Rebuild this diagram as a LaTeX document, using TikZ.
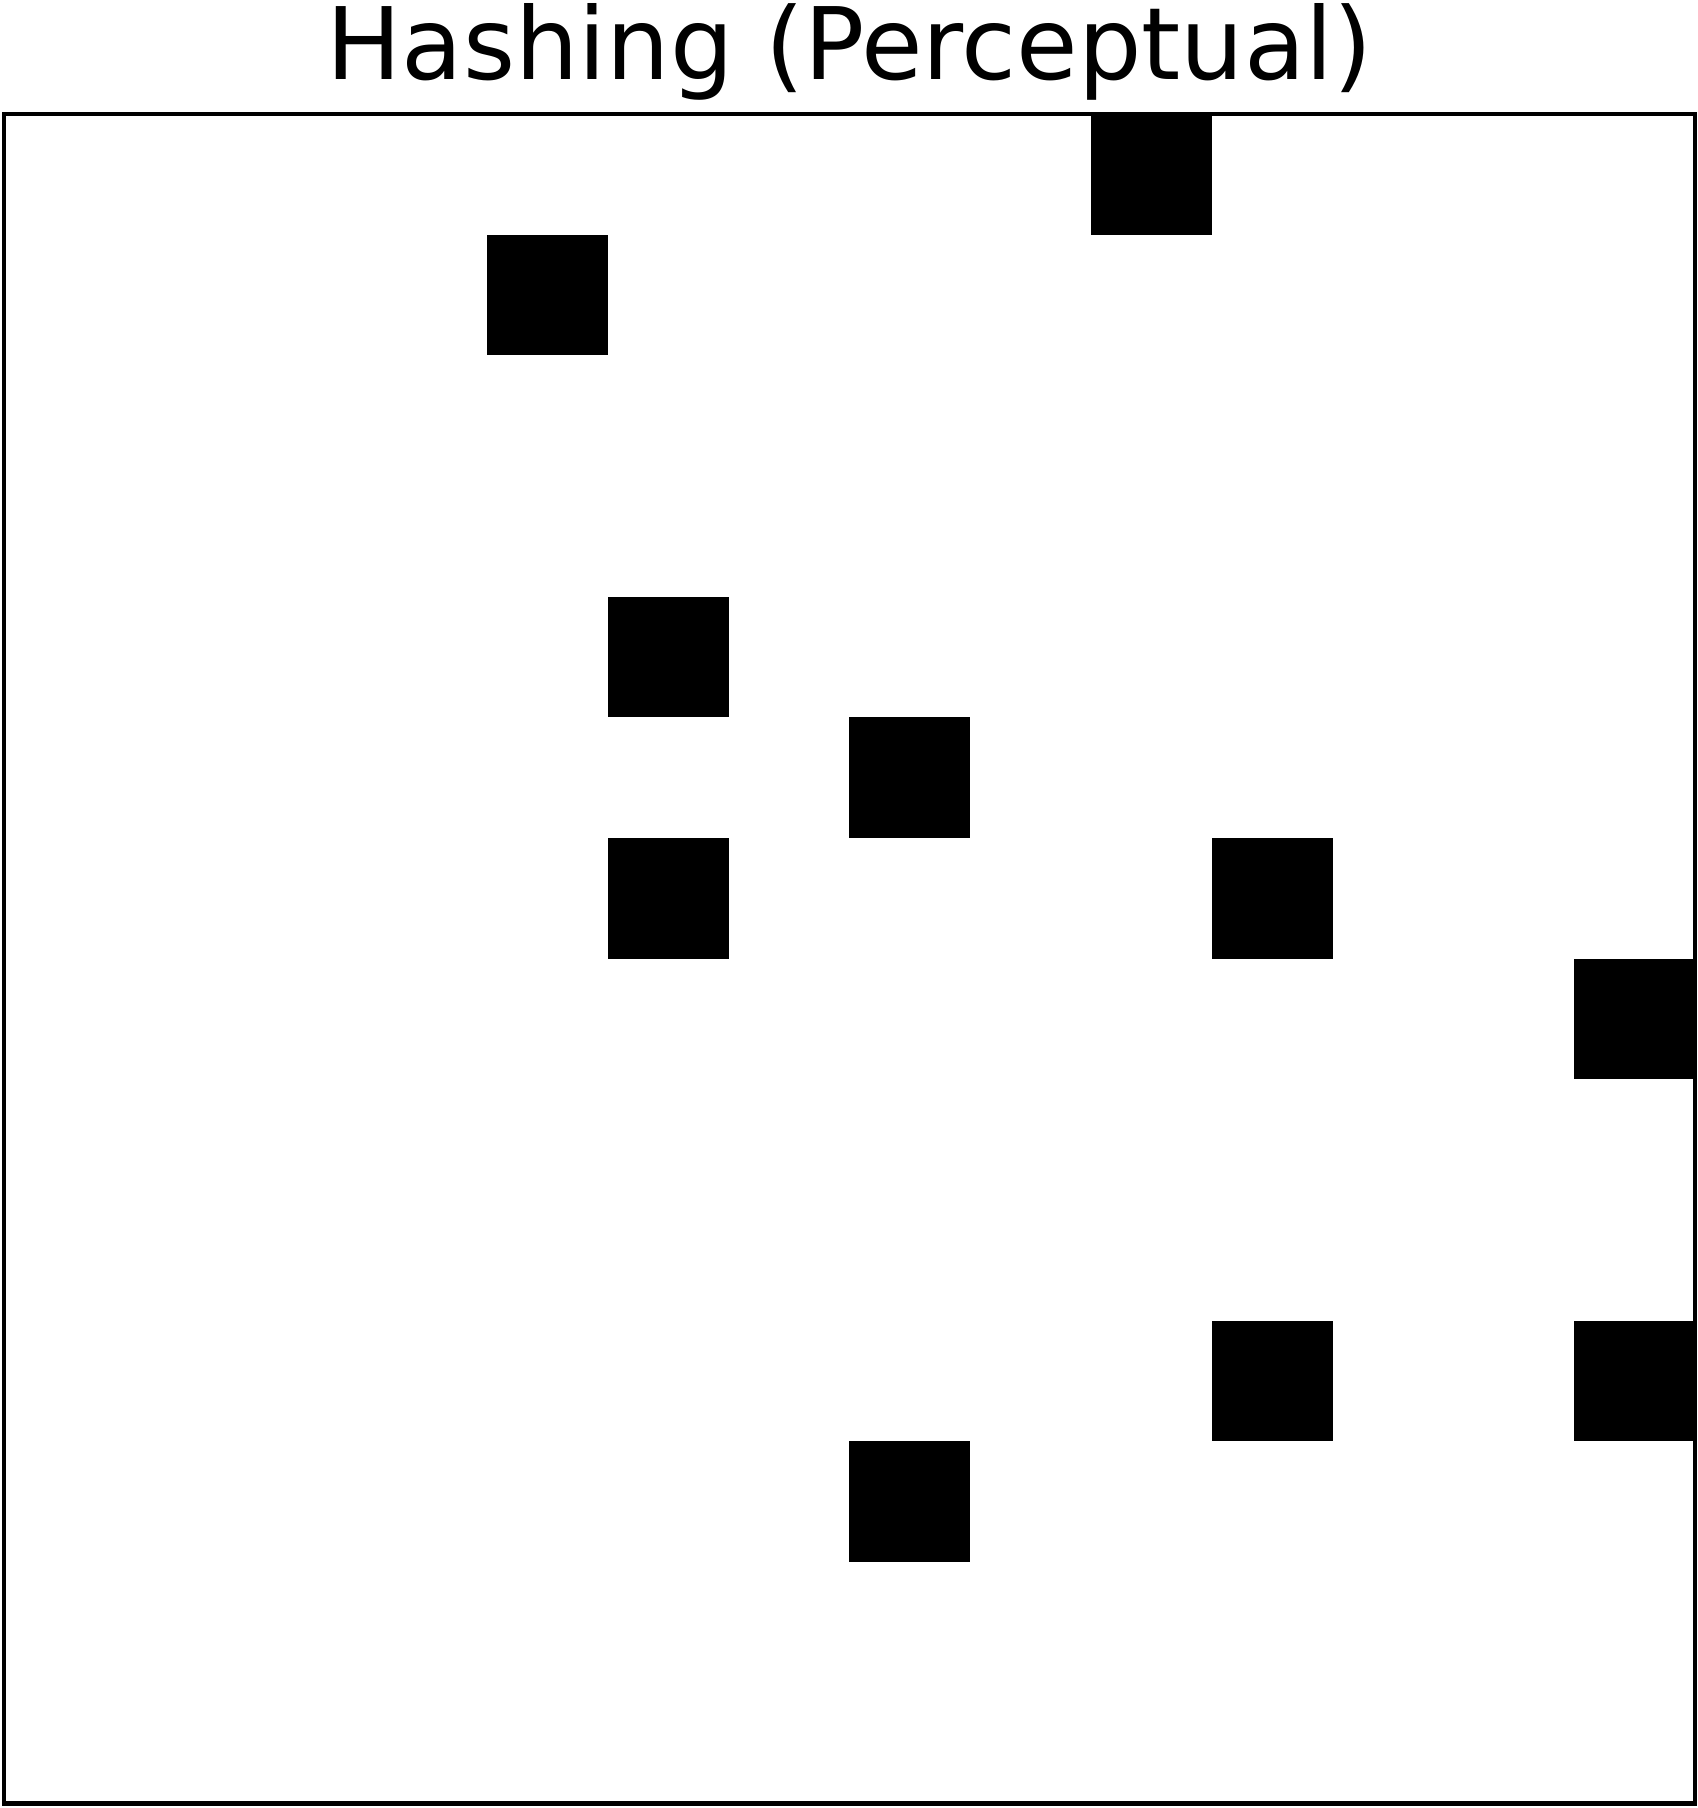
\documentclass[tikz,border=0pt]{standalone}
\usepackage{fontspec}
\newfontfamily\titlefont{DejaVu Sans}
\tikzset{frame/.style={draw=black,line width=0.04cm},cell/.style={fill=black}}
\begin{document}
\begin{tikzpicture}[x=0.01cm,y=0.01cm]
\useasboundingbox (0,0) rectangle (1698,1808);
\node[anchor=base,inner sep=0pt,font=\titlefont\fontsize{28.45pt}{34pt}\selectfont] (title) at (849.5,1728) {Hashing (Perceptual)};
% hash cells, column/row counted from the top left
\foreach \c/\r in {9/0,4/1,5/4,7/5,5/6,10/6,13/7,10/10,13/10,7/11}
  \fill[cell] ({4+\c*120.78},{1694-\r*120.68}) rectangle ++(120.78,-120.68);
\draw[frame] (4,4.5) rectangle (1695,1694);
\end{tikzpicture}
\end{document}
